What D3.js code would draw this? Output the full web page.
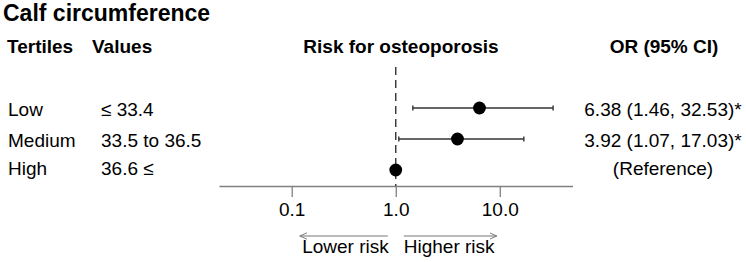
<!DOCTYPE html>
<html>
<head>
<meta charset="utf-8">
<script src="https://cdn.jsdelivr.net/npm/d3@7"></script>
<style>
	body { margin: 0; background: #fff; }
	text { font-family: Arial, "Liberation Sans", sans-serif; fill: #000; }
</style>
</head>
<body>
<div id="chart"></div>
<script>
// 数据
var tertiles = ['Low', 'Medium', 'High'];
var values = ['≤ 33.4', '33.5 to 36.5', '36.6 ≤'];
var or = [6.38, 3.92, 1.0];
var lower = [1.46, 1.07, null];
var upper = [32.53, 17.03, null];
var orLabels = ['6.38 (1.46, 32.53)*', '3.92 (1.07, 17.03)*', '(Reference)'];
var ticks = [0.1, 1, 10];

var width = 746,
	height = 262;
var fontSize = 19;

var svg = d3.select('#chart').append('svg')
	.attr('width', width)
	.attr('height', height);

// 比例尺
var xScale = d3.scaleLog()
	.domain([0.02, 50])
	.range([219, 572.5]);

var yScale = d3.scalePoint()
	.domain(tertiles)
	.range([108, 170]);

// 标题
svg.append('text')
	.attr('x', 3)
	.attr('y', 21)
	.style('font-size', '23px')
	.style('font-weight', 'bold')
	.text('Calf circumference');

// 表头
var headers = [
	{ text: 'Tertiles', x: 7, anchor: 'start' },
	{ text: 'Values', x: 92, anchor: 'start' },
	{ text: 'Risk for osteoporosis', x: 401, anchor: 'middle' },
	{ text: 'OR (95% CI)', x: 664, anchor: 'middle' }
];
svg.append('g')
	.selectAll('text')
	.data(headers)
	.enter()
	.append('text')
	.attr('x', d => d.x)
	.attr('y', 53)
	.attr('text-anchor', d => d.anchor)
	.style('font-size', fontSize + 'px')
	.style('font-weight', 'bold')
	.text(d => d.text);

// 行标签
var rows = tertiles.map((t, i) => ({
	name: t,
	value: values[i],
	or: or[i],
	lo: lower[i],
	hi: upper[i],
	label: orLabels[i]
}));

var textDy = [8, 8, 5];
svg.append('g')
	.selectAll('text')
	.data(rows)
	.enter()
	.append('text')
	.attr('x', 8)
	.attr('y', (d, i) => yScale(d.name) + textDy[i])
	.style('font-size', fontSize + 'px')
	.text(d => d.name);

svg.append('g')
	.selectAll('text')
	.data(rows)
	.enter()
	.append('text')
	.attr('x', 101)
	.attr('y', (d, i) => yScale(d.name) + textDy[i])
	.style('font-size', fontSize + 'px')
	.text(d => d.value);

svg.append('g')
	.selectAll('text')
	.data(rows)
	.enter()
	.append('text')
	.attr('x', 663)
	.attr('y', (d, i) => yScale(d.name) + textDy[i])
	.attr('text-anchor', 'middle')
	.style('font-size', fontSize + 'px')
	.text(d => d.label);

// 坐标轴
var axisY = 186;
var axis = svg.append('g')
	.attr('transform', 'translate(0,' + axisY + ')')
	.call(d3.axisBottom(xScale)
		.tickValues(ticks)
		.tickFormat(d3.format('.1f'))
		.tickSizeOuter(0)
		.tickSizeInner(11)
		.tickPadding(6));
axis.select('.domain').attr('stroke', '#808080').attr('stroke-width', 1.3);
axis.selectAll('.tick line').attr('stroke', '#808080').attr('stroke-width', 1.3);
axis.selectAll('.tick text')
	.style('font-size', fontSize + 'px')
	.style('font-family', 'Arial, "Liberation Sans", sans-serif')
	.attr('fill', '#000');

// 参考线
svg.append('line')
	.attr('x1', xScale(1))
	.attr('x2', xScale(1))
	.attr('y1', 67)
	.attr('y2', axisY)
	.attr('stroke', '#333')
	.attr('stroke-width', 1.4)
	.attr('stroke-dasharray', '8,5');

// 置信区间
var ci = svg.append('g')
	.selectAll('g')
	.data(rows.filter(d => d.lo != null))
	.enter()
	.append('g');

ci.append('line')
	.attr('x1', d => xScale(d.lo))
	.attr('x2', d => xScale(d.hi))
	.attr('y1', d => yScale(d.name))
	.attr('y2', d => yScale(d.name))
	.attr('stroke', '#333')
	.attr('stroke-width', 1.6);

ci.selectAll('.cap')
	.data(d => [{ v: d.lo, name: d.name }, { v: d.hi, name: d.name }])
	.enter()
	.append('line')
	.attr('x1', d => xScale(d.v))
	.attr('x2', d => xScale(d.v))
	.attr('y1', d => yScale(d.name) - 2.5)
	.attr('y2', d => yScale(d.name) + 2.5)
	.attr('stroke', '#333')
	.attr('stroke-width', 1.4);

svg.append('g')
	.selectAll('circle')
	.data(rows)
	.enter()
	.append('circle')
	.attr('cx', d => xScale(d.or))
	.attr('cy', d => yScale(d.name))
	.attr('r', 6.4)
	.attr('fill', '#000');

// 风险箭头
var defs = svg.append('defs');
defs.append('marker')
	.attr('id', 'arrow')
	.attr('viewBox', '0 0 10 10')
	.attr('refX', 9)
	.attr('refY', 5)
	.attr('markerWidth', 8)
	.attr('markerHeight', 8)
	.attr('markerUnits', 'userSpaceOnUse')
	.attr('orient', 'auto')
	.append('path')
	.attr('d', 'M0,1 L9,5 L0,9')
	.attr('fill', 'none')
	.attr('stroke', '#777')
	.attr('stroke-width', 1.2);

var arrowY = 236;
var x1 = xScale(1);
svg.append('line')
	.attr('x1', x1 - 8)
	.attr('x2', x1 - 96)
	.attr('y1', arrowY)
	.attr('y2', arrowY)
	.attr('stroke', '#777')
	.attr('stroke-width', 1.2)
	.attr('marker-end', 'url(#arrow)');
svg.append('line')
	.attr('x1', x1 + 8)
	.attr('x2', x1 + 101)
	.attr('y1', arrowY)
	.attr('y2', arrowY)
	.attr('stroke', '#777')
	.attr('stroke-width', 1.2)
	.attr('marker-end', 'url(#arrow)');

svg.append('text')
	.attr('x', x1 - 7)
	.attr('y', 253)
	.attr('text-anchor', 'end')
	.style('font-size', fontSize + 'px')
	.text('Lower risk');
svg.append('text')
	.attr('x', x1 + 8)
	.attr('y', 253)
	.style('font-size', fontSize + 'px')
	.text('Higher risk');
</script>
</body>
</html>
